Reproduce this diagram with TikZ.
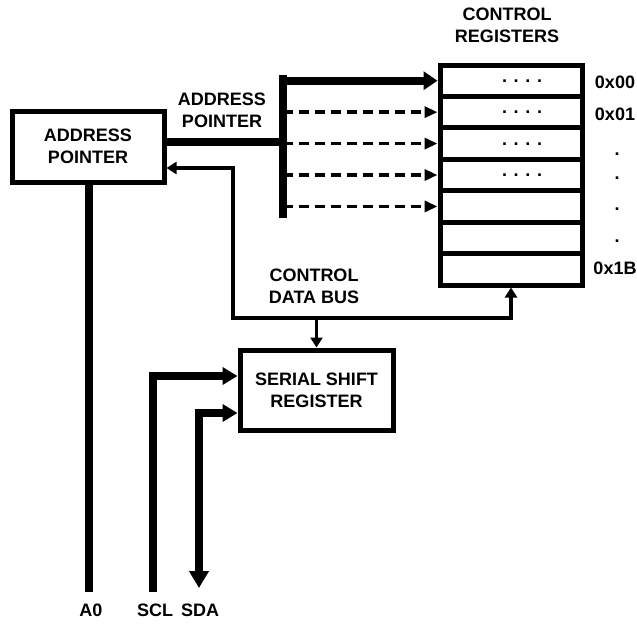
\documentclass[tikz,border=0pt]{standalone}
\usepackage{fontspec}
\setmainfont{Liberation Sans}
\usetikzlibrary{arrows.meta}

\begin{document}
\begin{tikzpicture}[x=1pt,y=-1pt,
	lbl/.style={font=\fontsize{18}{22}\selectfont\bfseries, align=center, inner sep=0pt},
	blk/.style={draw, line width=5pt, lbl},
	regrow/.style={draw, line width=5pt, minimum width=142pt, minimum height=31.43pt, inner sep=0pt},
	fat/.style={line width=8pt},
	thinline/.style={line width=3.5pt},
	dashline/.style={line width=3.5pt, dash pattern=on 10pt off 6pt},
	bigtip/.style={-{Triangle[length=14pt,width=18pt]}},
	smalltip/.style={-{Triangle[length=13pt,width=11pt]}}]
	\useasboundingbox (0,0) rectangle (637,624);

	% blocks
	\node[blk, minimum width=152pt, minimum height=71pt] (addr) at (88,146.5) {ADDRESS\\POINTER};
	\node[blk, minimum width=153pt, minimum height=80pt] (ssr) at (316.5,390) {SERIAL SHIFT\\REGISTER};

	% control registers
	\foreach \i in {1,...,7}
		\node[regrow] (r\i) at (511,{65+31.43*(\i-0.5)}) {};
	\foreach \i in {1,...,4}
		\node[lbl, anchor=base] (dots\i) at ([xshift=11pt,yshift=-1.5pt]r\i.center) {. . . .};
	\node[lbl] (regname) at (507,25) {CONTROL\\REGISTERS};
	\node[lbl] (off00) at (615,82) {0x00};
	\node[lbl] (off01) at (615,114) {0x01};
	\node[lbl] (off1b) at (615,268) {0x1B};
	\foreach \y [count=\k] in {155,179,210,242}
		\node[lbl, anchor=base] (gap\k) at (617,\y) {.};

	% address pointer bus
	\coordinate (bustop) at (283,75);
	\coordinate (busbot) at (283,218);
	\coordinate (busin) at (283,142);
	\foreach \i in {2,...,5}
		\draw[dashline, smalltip] (bustop |- r\i) -- (r\i.west);
	\draw[fat, bigtip] (bustop |- r1) -- (r1.west);
	\draw[fat] (bustop) -- (busbot);
	\draw[fat] (addr.east |- busin) -- (busin);
	\node[lbl] (buslbl) at (222,110) {ADDRESS\\POINTER};

	% control data bus
	\coordinate (fbtop) at (233,168);
	\coordinate (fbbot) at (233,318);
	\draw[thinline, {Triangle[length=10pt,width=12pt]}-{Triangle[length=10pt,width=12pt]}]
		(addr.east |- fbtop) -- (fbtop) -- (fbbot) -| (r7.south);
	\draw[thinline, -{Triangle[length=10pt,width=12pt]}] (ssr.north |- fbbot) -- (ssr.north);
	\node[lbl] (cbuslbl) at (314,286) {CONTROL\\DATA BUS};

	% pins
	\coordinate (a0) at (89,592);
	\coordinate (scl) at (153,592);
	\coordinate (sda) at (199,588);
	\draw[fat] (addr.south -| a0) -- (a0);
	\draw[fat, -{Triangle[length=15pt,width=17pt]}] (scl) |- ([yshift=14pt]ssr.west);
	\draw[fat, {Triangle[length=17pt,width=19pt]}-{Triangle[length=15pt,width=17pt]}]
		(sda) |- ([yshift=-23pt]ssr.west);
	\node[lbl] (a0lbl) at (91,610) {A0};
	\node[lbl] (scllbl) at (155,610) {SCL};
	\node[lbl] (sdalbl) at (200,610) {SDA};
\end{tikzpicture}
\end{document}
